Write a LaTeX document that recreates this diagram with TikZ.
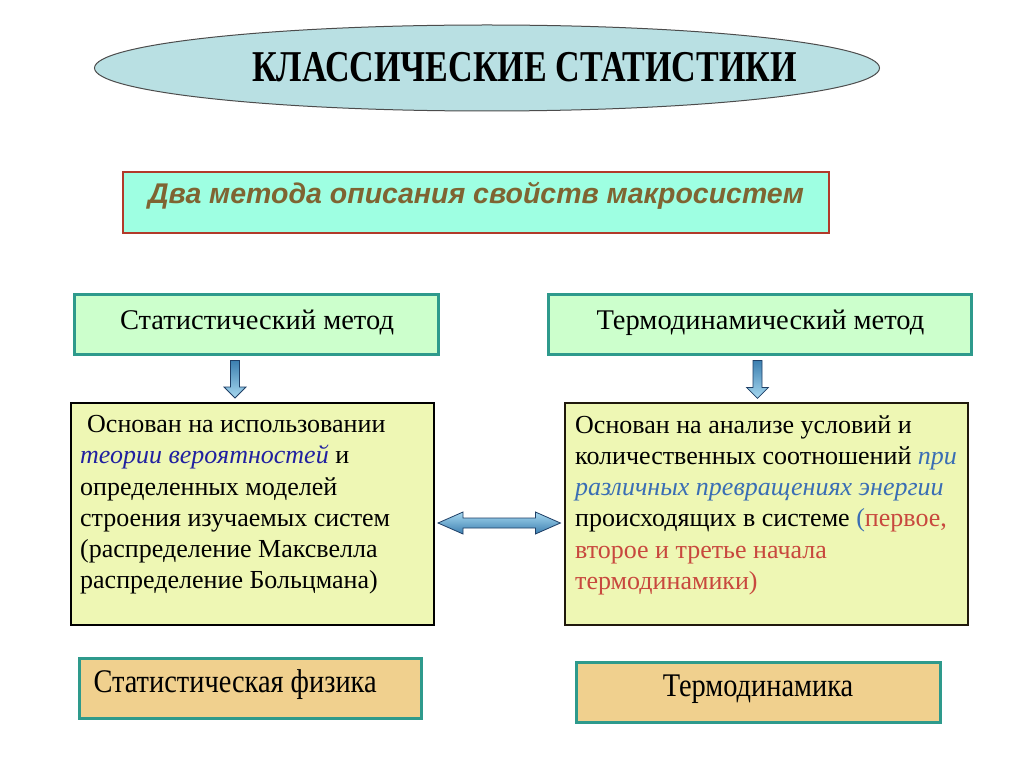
\documentclass[tikz,border=0pt]{standalone}
\usepackage{fontspec}
\setmainfont{Liberation Serif}
\newfontfamily\titlefont{Liberation Serif}[FakeStretch=0.774]
\newfontfamily\condfont{Liberation Serif}[FakeStretch=0.86]
\newfontfamily\sansfnt{Liberation Sans}
\usetikzlibrary{calc,shapes.geometric}
\definecolor{ellfill}{HTML}{B9E0E3}
\definecolor{aqua}{HTML}{9EFFE2}
\definecolor{darkred}{HTML}{B23A2A}
\definecolor{olive}{HTML}{7F6432}
\definecolor{lgreen}{HTML}{CCFFCC}
\definecolor{teal}{HTML}{2E9A8C}
\definecolor{lyellow}{HTML}{EEF7B4}
\definecolor{tan}{HTML}{F0D08E}
\definecolor{dblue}{HTML}{2020A0}
\definecolor{sblue}{HTML}{3A6EB4}
\definecolor{rred}{HTML}{C8483E}
\definecolor{arrlight}{HTML}{A6D8F0}
\definecolor{arrdark}{HTML}{3C7FB0}
\definecolor{arredge}{HTML}{1F3F66}
\tikzset{
  methodbox/.style={draw=teal, line width=3pt, fill=lgreen, minimum height=60pt, inner sep=0pt},
  methodtext/.style={anchor=base, font=\fontsize{28.5}{32}\selectfont},
  textbox/.style={fill=lyellow, minimum height=222pt, inner sep=0pt},
  resbox/.style={draw=teal, line width=3pt, fill=tan, minimum height=60pt, inner sep=0pt},
  restext/.style={font=\condfont\fontsize{33}{36}\selectfont},
  blockarrow/.style={draw=arredge, line width=0.8pt},
  boxtext/.style={align=left, anchor=north west, inner sep=0pt, font=\fontsize{26}{31.3}\selectfont}
}
\begin{document}
\begin{tikzpicture}[x=1pt,y=-1pt]
\useasboundingbox[fill=white] (0,0) rectangle (1024,767);
% title ellipse
\node[draw=black!70, line width=1pt, fill=ellfill, ellipse, minimum width=785pt, minimum height=86pt] (ell) at (487,68) {};
\node[font=\titlefont\bfseries\fontsize{44}{50}\selectfont, anchor=base] (title) at (524.5,82) {КЛАССИЧЕСКИЕ СТАТИСТИКИ};
% two methods box
\node[draw=darkred, line width=2pt, fill=aqua, minimum width=706pt, minimum height=61pt, inner sep=0pt] (two) at (476,202.5) {};
\node[font=\sansfnt\bfseries\itshape\fontsize{28.5}{32}\selectfont, text=olive, anchor=base] (twot) at (476,204) {Два метода описания свойств макросистем};
% method boxes
\node[methodbox, minimum width=364pt] (sm) at (256,324) {};
\node[methodtext] (smt) at (257,329) {Статистический метод};
\node[methodbox, minimum width=423pt] (tm) at (759.5,324) {};
\node[methodtext] (tmt) at (760.5,329) {Термодинамический метод};
% text boxes
\node[textbox, draw=black, line width=2pt, minimum width=363pt] (sb) at (252.5,514) {};
\node[textbox, draw=black!75!olive, line width=1.2pt, minimum width=403pt] (tb) at (766.5,514) {};
\node[boxtext] (sbt) at (80,415) {\hspace*{7pt}Основан на использовании\\
{\color{dblue}\itshape теории вероятностей} и\\
определенных моделей\\
строения изучаемых систем\\
(распределение Максвелла\\
распределение Больцмана)};
\node[boxtext] (tbt) at (575,415) {Основан на анализе условий и\\
количественных соотношений {\color{sblue}\itshape при}\\
{\color{sblue}\itshape различных превращениях энергии}\\
происходящих в системе {\color{sblue}(}{\color{rred}первое,}\\
{\color{rred}второе и третье начала}\\
{\color{rred}термодинамики)}};
% result boxes
\node[resbox, minimum width=342pt] (sf) at (250,688) {};
\node[restext, anchor=base west] (sft) at (90,692) {Статистическая физика};
\node[resbox, minimum width=364pt] (td) at (758,692) {};
\node[restext, anchor=base] (tdt) at (758,696) {Термодинамика};
% down arrows
\foreach \a/\b/\dx in {sm/sb/-21, tm/tb/-2}{
  \path let \p1=($(\a.south)+(\dx,0)$), \p2=($(\b.north)$) in
    coordinate (t) at (\x1,\y1-5) coordinate (bt) at (\x1,\y2+4);
  \draw[blockarrow, left color=arrdark, right color=arrlight, shading angle=0]
    ($(t)+(-4.5,0)$) -- ($(t)+(4.5,0)$) -- ($(bt)+(4.5,-11)$) -- ($(bt)+(11,-11)$) -- (bt)
    -- ($(bt)+(-11,-11)$) -- ($(bt)+(-4.5,-11)$) -- cycle;
}
% double arrow
\coordinate (dl) at ($(sb.east)+(3,9)$);
\coordinate (dr) at ($(tb.west)+(-4,9)$);
\draw[blockarrow, top color=arrlight, bottom color=arrdark]
  (dl) -- ($(dl)+(25,-11)$) -- ($(dl)+(25,-5)$) -- ($(dr)+(-25,-5)$) -- ($(dr)+(-25,-11)$)
  -- (dr) -- ($(dr)+(-25,11)$) -- ($(dr)+(-25,5)$) -- ($(dl)+(25,5)$) -- ($(dl)+(25,11)$) -- cycle;
\end{tikzpicture}
\end{document}
